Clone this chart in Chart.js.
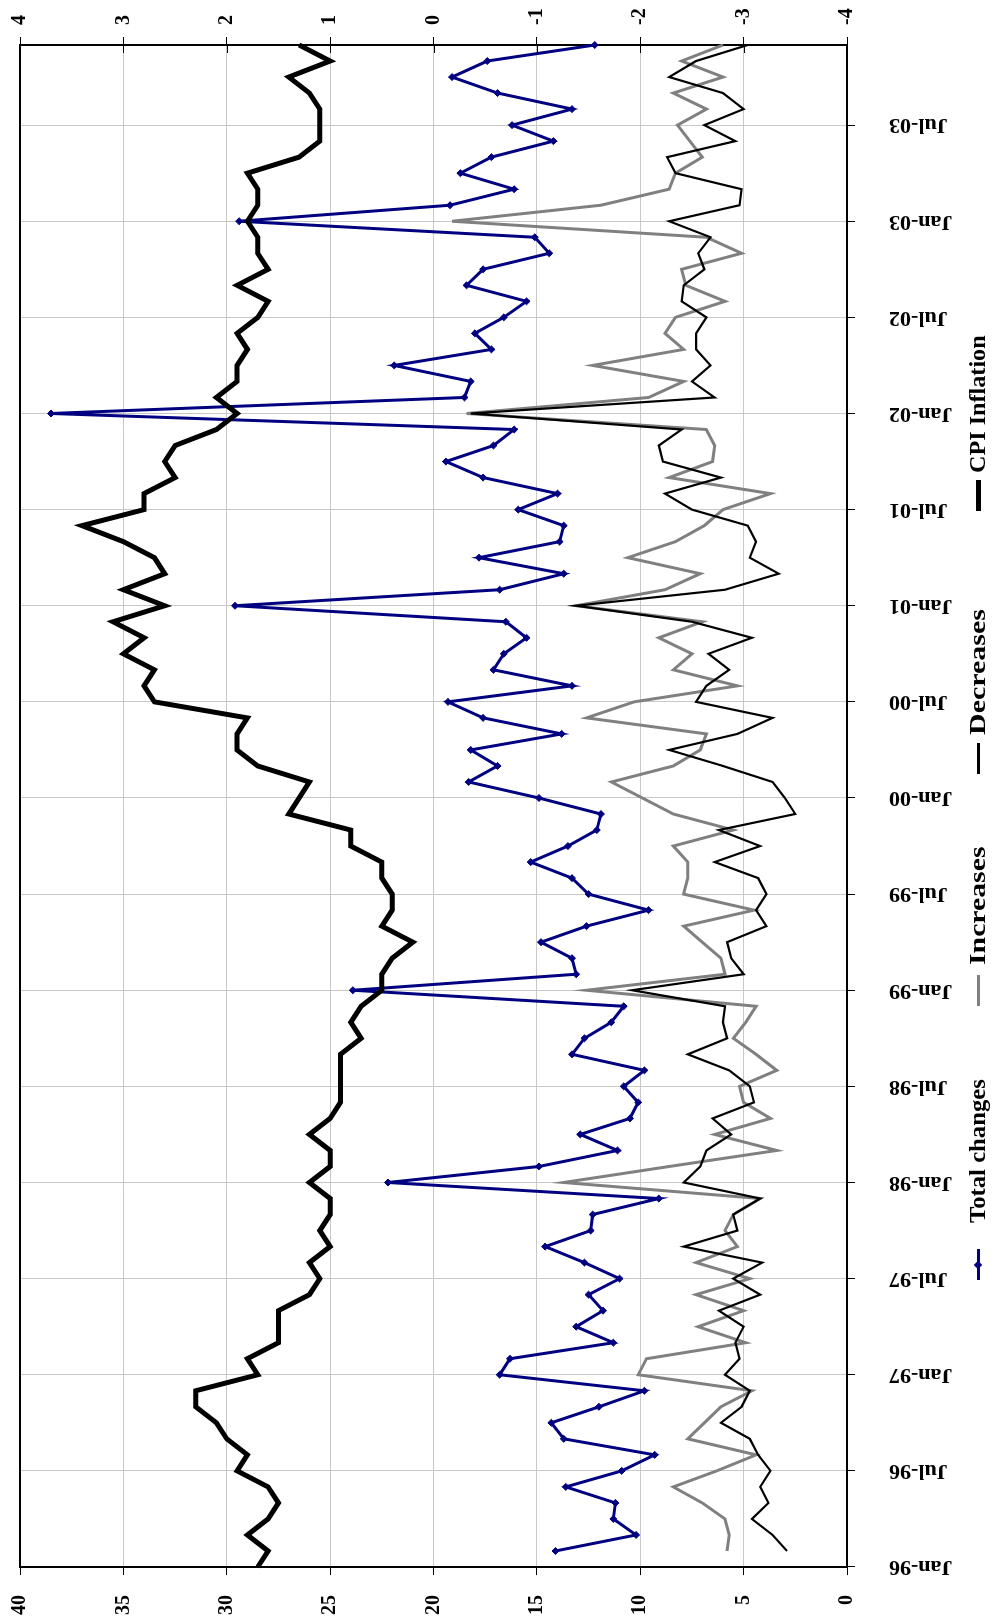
<!DOCTYPE html>
<html>
<head>
<meta charset="utf-8">
<title>Price changes and CPI inflation</title>
<script src="https://cdn.jsdelivr.net/npm/chart.js@4.4.1/dist/chart.umd.min.js"></script>
<style>
    html, body {
        margin: 0;
        padding: 0;
        background: #ffffff;
        overflow: hidden;
    }
    /* the chart is laid out landscape and turned a quarter to the left */
    #page {
        position: absolute;
        left: 0;
        top: 0;
        width: 1619px;
        height: 996px;
        transform-origin: 0 0;
        transform: translate(0, 1619px) rotate(-90deg);
    }
    #chart {
        position: absolute;
        left: 0;
        top: 0;
    }
    .legend-item {
        position: absolute;
        height: 28px;
        line-height: 28px;
        font: bold 24px 'Times New Roman', 'Liberation Serif', serif;
        color: #000;
        white-space: nowrap;
        transform-origin: 0 50%;
    }
    .legend-line {
        position: absolute;
        top: 50%;
        width: 31px;
    }
    .legend-diamond {
        position: absolute;
        left: 12px;
        width: 6px;
        height: 6px;
        transform: rotate(45deg);
    }
</style>
</head>
<body>
<div id="page">
    <canvas id="chart" width="1619" height="996"></canvas>
    <div id="legend"></div>
</div>
<script>
const FONT_FAMILY = "'Times New Roman', 'Liberation Serif', serif";
const GRID_COLOR = "#c8c8c8";
const TOTAL_COLOR = "#000080";
const INCREASE_COLOR = "#808080";
const DECREASE_COLOR = "#000000";
const CPI_COLOR = "#000000";

// chart area inside the 1619x996 landscape canvas
const CANVAS_W = 1619;
const CANVAS_H = 996;
const AREA_LEFT = 52;
const AREA_RIGHT = 1574;
const AREA_TOP = 20;
const AREA_BOTTOM = 847;

const MONTH_NAMES = ["Jan", "Feb", "Mar", "Apr", "May", "Jun", "Jul", "Aug", "Sep", "Oct", "Nov", "Dec"];
const YEARS = ["96", "97", "98", "99", "00", "01", "02", "03"];
const categories = YEARS.flatMap(y => MONTH_NAMES.map(m => m + "-" + y));

// share of prices changing per month (left axis), first month not observed
const totalChanges = [
    null, 14.1, 10.2, 11.3, 11.2, 13.6, 10.9, 9.3, 13.7, 14.3, 12.0, 9.8,
    16.8, 16.3, 11.3, 13.1, 11.8, 12.5, 11.0, 12.7, 14.6, 12.4, 12.3, 9.1,
    22.2, 14.9, 11.1, 12.9, 10.5, 10.1, 10.8, 9.8, 13.3, 12.7, 11.4, 10.8,
    23.9, 13.1, 13.3, 14.8, 12.6, 9.6, 12.5, 13.3, 15.3, 13.5, 12.1, 11.9,
    14.9, 18.3, 16.9, 18.2, 13.8, 17.6, 19.3, 13.3, 17.1, 16.6, 15.5, 16.5,
    29.6, 16.8, 13.7, 17.8, 13.9, 13.7, 15.9, 14.0, 17.6, 19.4, 17.1, 16.1,
    38.5, 18.5, 18.2, 21.9, 17.2, 18.0, 16.6, 15.5, 18.4, 17.6, 14.4, 15.1,
    29.4, 19.2, 16.1, 18.7, 17.2, 14.2, 16.2, 13.3, 16.9, 19.1, 17.4, 12.2
];
const increases = [
    null, 5.8, 5.7, 5.9, 7.0, 8.4, 6.3, 4.4, 7.7, 6.9, 6.1, 4.6,
    10.1, 9.7, 4.9, 7.2, 5.0, 7.3, 4.7, 7.3, 5.3, 5.9, 5.5, 4.2,
    13.7, 8.6, 3.4, 6.4, 3.7, 5.0, 5.2, 3.4, 4.4, 5.5, 4.9, 4.4,
    12.6, 5.9, 6.1, 7.0, 7.9, 4.5, 7.9, 7.7, 7.7, 8.4, 5.5, 8.4,
    9.9, 11.4, 8.4, 7.1, 6.8, 12.6, 10.3, 5.3, 8.4, 7.5, 9.1, 7.0,
    13.1, 8.8, 7.1, 10.6, 8.3, 6.9, 6.0, 3.7, 8.6, 6.5, 6.4, 6.8,
    18.4, 9.6, 7.9, 12.3, 7.9, 8.8, 8.3, 5.9, 7.8, 8.0, 5.1, 6.8,
    19.1, 11.9, 8.6, 8.3, 7.0, 7.6, 8.2, 6.8, 8.4, 6.0, 8.0, 6.0
];
const decreases = [
    null, 2.9, 3.6, 4.6, 3.8, 4.2, 3.7, 4.3, 4.7, 6.1, 5.1, 4.7,
    5.9, 5.2, 5.4, 5.0, 6.2, 4.2, 5.5, 4.1, 7.9, 5.3, 5.5, 4.2,
    7.9, 7.1, 6.8, 5.6, 6.5, 4.5, 4.7, 5.7, 7.7, 5.8, 6.0, 5.9,
    10.4, 5.0, 5.6, 5.8, 3.9, 4.4, 3.9, 4.3, 6.4, 4.2, 6.2, 2.5,
    3.0, 3.6, 6.0, 8.6, 5.3, 3.6, 7.3, 6.8, 5.7, 6.7, 4.6, 7.5,
    13.1, 5.9, 3.3, 4.7, 4.4, 4.8, 7.5, 8.8, 6.1, 8.9, 9.1, 8.0,
    18.2, 6.4, 7.5, 6.6, 7.3, 7.3, 6.8, 8.0, 7.9, 6.9, 7.2, 6.6,
    8.6, 5.2, 5.1, 8.3, 8.7, 5.4, 6.9, 5.0, 6.0, 8.6, 7.3, 4.8
];
// CPI inflation, right axis
const cpiInflation = [
    1.7, 1.6, 1.8, 1.6, 1.5, 1.6, 1.9, 1.8, 2.0, 2.1, 2.3, 2.3,
    1.7, 1.8, 1.5, 1.5, 1.5, 1.2, 1.1, 1.2, 1.0, 1.1, 1.0, 1.0,
    1.2, 1.0, 1.0, 1.2, 1.0, 0.9, 0.9, 0.9, 0.9, 0.7, 0.8, 0.7,
    0.5, 0.5, 0.4, 0.2, 0.5, 0.4, 0.4, 0.5, 0.5, 0.8, 0.8, 1.4,
    1.3, 1.2, 1.7, 1.9, 1.9, 1.8, 2.7, 2.8, 2.7, 3.0, 2.8, 3.1,
    2.6, 3.0, 2.6, 2.7, 3.0, 3.4, 2.8, 2.8, 2.5, 2.6, 2.5, 2.1,
    1.9, 2.1, 1.9, 1.9, 1.8, 1.9, 1.7, 1.6, 1.9, 1.6, 1.7, 1.7,
    1.8, 1.7, 1.7, 1.8, 1.3, 1.1, 1.1, 1.1, 1.2, 1.4, 1.0, 1.3
];

const LEFT_AXIS = {min: 0, max: 40, step: 5};
const RIGHT_AXIS = {min: -4, max: 4, step: 1};
const LABEL_EVERY = 6;

const LEGEND_ITEMS = [
    {text: "Total changes", color: TOTAL_COLOR, width: 3, marker: true, lineX: 339, textX: 396, textLength: 144},
    {text: "Increases", color: INCREASE_COLOR, width: 3, marker: false, lineX: 613, textX: 654, textLength: 119},
    {text: "Decreases", color: DECREASE_COLOR, width: 3, marker: false, lineX: 845, textX: 884, textLength: 126},
    {text: "CPI Inflation", color: CPI_COLOR, width: 5, marker: false, lineX: 1108, textX: 1146, textLength: 138},
];
const LEGEND_CENTER_Y = 978;

// thin top frame and the inward half of the right axis ticks
const framePlugin = {
    id: "frame",
    afterDatasetsDraw(chart) {
        const ctx = chart.ctx;
        const a = chart.chartArea;
        ctx.save();
        ctx.strokeStyle = "#000";
        ctx.lineWidth = 2;
        ctx.beginPath();
        ctx.moveTo(a.left - 1, a.top);
        ctx.lineTo(a.right + 1, a.top);
        ctx.stroke();

        ctx.lineWidth = 1;
        const y2 = chart.scales.y2;
        y2.ticks.forEach((t, i) => {
            let y = Math.round(y2.getPixelForTick(i)) + 0.5;
            ctx.beginPath();
            ctx.moveTo(a.right - 8, y);
            ctx.lineTo(a.right, y);
            ctx.stroke();
        });
        ctx.restore();
    }
};

function tickFont(size) {
    return {family: FONT_FAMILY, size: size, weight: "bold"};
}

// pin the plot box: drop the label overhang chart.js reserves
function fitHorizontal(scale) {
    scale.height = CANVAS_H - AREA_BOTTOM;
    scale.paddingLeft = 0;
    scale.paddingRight = 0;
}

function fitVertical(width) {
    return (scale) => {
        scale.width = width;
        scale.paddingTop = 0;
        scale.paddingBottom = 0;
    };
}

function buildDatasets() {
    return [
        {
            label: "Total changes",
            data: totalChanges,
            borderColor: TOTAL_COLOR,
            backgroundColor: TOTAL_COLOR,
            borderWidth: 3,
            pointStyle: "rectRot",
            pointRadius: 3.5,
            pointBorderWidth: 1,
            yAxisID: "y",
            order: 3,
        },
        {
            label: "Increases",
            data: increases,
            borderColor: INCREASE_COLOR,
            borderWidth: 3,
            pointRadius: 0,
            yAxisID: "y",
            order: 2,
        },
        {
            label: "Decreases",
            data: decreases,
            borderColor: DECREASE_COLOR,
            borderWidth: 2.2,
            pointRadius: 0,
            yAxisID: "y",
            order: 1,
        },
        {
            label: "CPI Inflation",
            data: cpiInflation,
            borderColor: CPI_COLOR,
            borderWidth: 5,
            pointRadius: 0,
            yAxisID: "y2",
            order: 0,
        },
    ];
}

function buildLegend() {
    const holder = document.getElementById("legend");

    LEGEND_ITEMS.forEach(item => {
        let line = document.createElement("div");
        line.className = "legend-item";
        line.style.left = item.lineX + "px";
        line.style.top = (LEGEND_CENTER_Y - 14) + "px";
        line.style.width = "31px";

        let bar = document.createElement("div");
        bar.className = "legend-line";
        bar.style.height = item.width + "px";
        bar.style.marginTop = (-item.width / 2) + "px";
        bar.style.background = item.color;
        line.appendChild(bar);

        if (item.marker) {
            let d = document.createElement("div");
            d.className = "legend-diamond";
            d.style.top = "11px";
            d.style.background = item.color;
            line.appendChild(d);
        }
        holder.appendChild(line);

        let label = document.createElement("div");
        label.className = "legend-item";
        label.style.left = item.textX + "px";
        label.style.top = (LEGEND_CENTER_Y - 14) + "px";
        label.textContent = item.text;
        holder.appendChild(label);

        // the source lettering is narrow and tall, stretch to its measured run
        let w = label.offsetWidth;
        if (w > 0) {
            label.style.transform = "scaleX(" + (item.textLength / w).toFixed(3) + ")";
        }
    });
}

function buildChart() {
    const ctx = document.getElementById("chart").getContext("2d");

    new Chart(ctx, {
        type: "line",
        data: {
            labels: categories,
            datasets: buildDatasets(),
        },
        options: {
            responsive: false,
            animation: false,
            devicePixelRatio: 1,
            layout: {padding: {top: AREA_TOP, left: 0, right: 0, bottom: 0}},
            elements: {line: {tension: 0}},
            plugins: {
                legend: {display: false},
                tooltip: {enabled: false},
            },
            scales: {
                x: {
                    type: "category",
                    offset: false,
                    afterFit: fitHorizontal,
                    border: {display: true, color: "#000", width: 2},
                    grid: {
                        color: (c) => (c.index % LABEL_EVERY === 0 ? GRID_COLOR : "rgba(0,0,0,0)"),
                        tickColor: (c) => (c.index % LABEL_EVERY === 0 ? "#000" : "rgba(0,0,0,0)"),
                        tickLength: 8,
                        lineWidth: 1,
                    },
                    ticks: {
                        autoSkip: false,
                        minRotation: 90,
                        maxRotation: 90,
                        padding: 34,
                        color: "#000",
                        font: tickFont(22),
                        callback: function (value, index) {
                            return index % LABEL_EVERY === 0 ? this.getLabelForValue(value) : "";
                        },
                    },
                },
                y: {
                    position: "left",
                    min: LEFT_AXIS.min,
                    max: LEFT_AXIS.max,
                    afterFit: fitVertical(AREA_LEFT),
                    border: {display: true, color: "#000", width: 2},
                    grid: {color: GRID_COLOR, tickColor: "#000", tickLength: 8, lineWidth: 1},
                    ticks: {
                        stepSize: LEFT_AXIS.step,
                        padding: 20,
                        color: "#000",
                        font: tickFont(20),
                    },
                },
                y2: {
                    position: "right",
                    min: RIGHT_AXIS.min,
                    max: RIGHT_AXIS.max,
                    afterFit: fitVertical(CANVAS_W - AREA_RIGHT),
                    border: {display: true, color: "#000", width: 2},
                    grid: {drawOnChartArea: false, tickColor: "#000", tickLength: 8},
                    ticks: {
                        stepSize: RIGHT_AXIS.step,
                        padding: 12,
                        color: "#000",
                        font: tickFont(20),
                    },
                },
            },
        },
        plugins: [framePlugin],
    });
}

buildChart();
buildLegend();
</script>
</body>
</html>
